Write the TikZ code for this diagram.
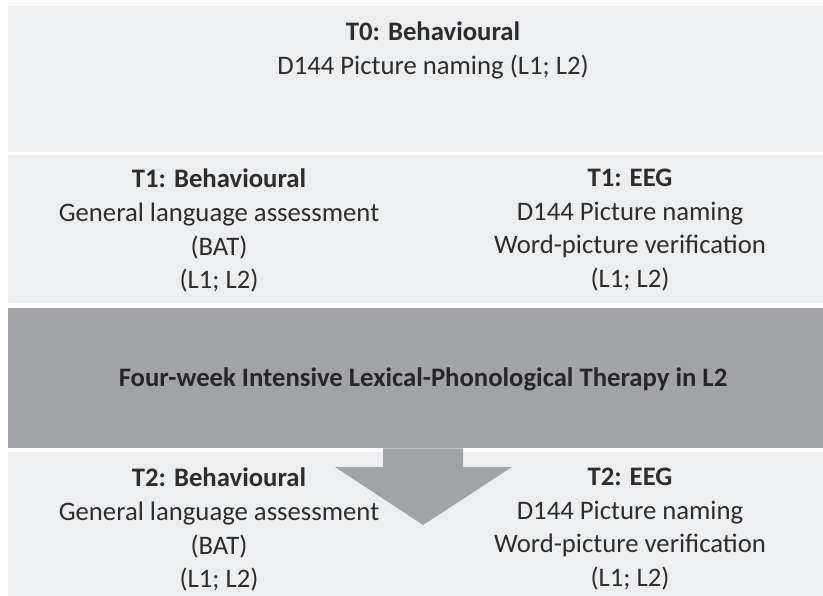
\documentclass[tikz,border=0pt]{standalone}
\usepackage{fontspec}
\setmainfont{Carlito}
\usetikzlibrary{positioning}

\definecolor{bandgray}{RGB}{237,238,240}
\definecolor{therapygray}{RGB}{161,163,166}
\definecolor{txtgray}{RGB}{45,45,45}

\begin{document}
\begin{tikzpicture}[
  x=1pt, y=-1pt,
  font=\fontsize{26.7}{33.6}\selectfont,
  band/.style={fill=bandgray, inner sep=0pt, anchor=north west, minimum width=815pt},
  therapy/.style={band, fill=therapygray},
  lbl/.style={align=center, text=txtgray, inner sep=0pt, anchor=north, execute at begin node=\strut},
  blockarrow/.style={fill=therapygray}
]
\useasboundingbox (0,0) rectangle (823,596);
% bands
\node[band, minimum height=146pt]    (t0)  at (8,6)   {};
\node[band, minimum height=148pt]    (t1)  at (8,155) {};
\node[therapy, minimum height=140pt] (ther) at (8,308) {};
\node[band, minimum height=144pt]    (t2)  at (8,452) {};
% texts
\node[lbl] (t0beh) at (433,22)  {\textbf{T0: Behavioural}\\D144 Picture naming (L1; L2)};
\node[lbl] (t1beh) at (219,169) {\textbf{T1: Behavioural}\\General language assessment\\(BAT)\\(L1; L2)};
\node[lbl] (t1eeg) at (630,169) {\textbf{T1: EEG}\\D144 Picture naming\\Word-picture verification\\(L1; L2)};
\node[lbl, text=black!85] (thertxt) at (423,363) {\textbf{Four-week Intensive Lexical-Phonological Therapy in L2}};
% arrow out of the therapy band
\coordinate (tip) at (423,525);
\fill[blockarrow] (ther.south -| 383,0) -- (ther.south -| 463,0) -- (463,467) -- (512,467)
  -- (tip) -- (335,467) -- (383,467) -- cycle;
\node[lbl] (t2beh) at (219,468) {\textbf{T2: Behavioural}\\General language assessment\\(BAT)\\(L1; L2)};
\node[lbl] (t2eeg) at (630,468) {\textbf{T2: EEG}\\D144 Picture naming\\Word-picture verification\\(L1; L2)};
\end{tikzpicture}
\end{document}
